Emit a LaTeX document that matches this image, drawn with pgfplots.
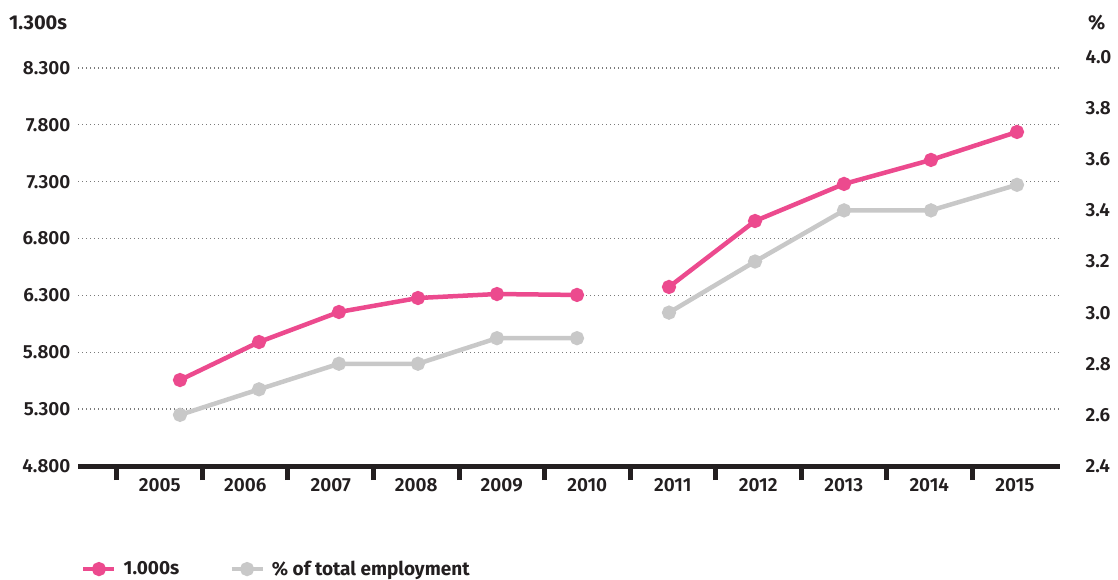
\documentclass[border=0pt]{standalone}
\usepackage{pgfplots}
\pgfplotsset{compat=1.18}
\usepackage{fontspec}
\setmainfont{Fira Sans}[UprightFont={* SemiBold}, BoldFont={* Bold}]
\definecolor{txt}{HTML}{231F20}
\definecolor{pinkline}{HTML}{EC4A8E}
\definecolor{grayline}{HTML}{C8C8C8}
\definecolor{dotgrid}{HTML}{7A7A7A}

\pgfplotsset{
  base/.style={
    at={(78pt,113pt)}, anchor=south west,
    width=982pt, height=409pt, scale only axis,
    xmin=-0.456, xmax=11.029,
    tick label style={font=\fontsize{19}{22}\selectfont, text=txt},
    major tick length=0pt,
    unbounded coords=jump,
  },
  series/.style={line width=4.5pt, mark=*, mark size=4.8pt, mark options={solid}},
}

\begin{document}
\begin{tikzpicture}[x=1pt,y=1pt]
\path[use as bounding box] (0,0) rectangle (1118,579);

% left axis: 1.000s
\begin{axis}[base,
  ymin=4800, ymax=8396,
  axis x line*=bottom, axis y line*=left,
  x axis line style={line width=5pt, color=txt, -},
  y axis line style={draw=none},
  xtick={0.5,1.5,2.5,3.5,4.5,5.5,6.5,7.5,8.5,9.5,10.5},
  xticklabels={2005,2006,2007,2008,2009,2010,2011,2012,2013,2014,2015},
  xticklabel style={yshift=-9pt},
  minor xtick={0,1,2,3,4,5,6,7,8,9,10},
  tick align=outside,
  minor tick length=14pt,
  every minor tick/.append style={line width=5pt, color=txt},
  ytick={4800,5300,5800,6300,6800,7300,7800,8300},
  yticklabels={4.800,5.300,5.800,6.300,6.800,7.300,7.800,8.300},
  yticklabel style={xshift=-4pt},
  ymajorgrids,
  major grid style={dotgrid, line width=1.3pt, dash pattern=on 1.3pt off 2.7pt},
]
\addplot[series, color=pinkline] coordinates {
  (0.737,5556) (1.661,5890) (2.596,6154) (3.520,6277) (4.444,6312) (5.380,6304)
  (5.9,nan)
  (6.456,6374) (7.462,6954) (8.503,7280) (9.520,7491) (10.526,7737)
};
\end{axis}

% right axis: % of total employment
\begin{axis}[base,
  ymin=2.4, ymax=4.0,
  axis x line=none,
  axis y line*=right,
  y axis line style={draw=none},
  ytick={2.4,2.6,2.8,3.0,3.2,3.4,3.6,3.8,4.0},
  yticklabels={2.4,2.6,2.8,3.0,3.2,3.4,3.6,3.8,4.0},
  yticklabel style={anchor=west, xshift=22pt},
  legend style={at={(0.0,-0.252)}, anchor=west, draw=none, fill=none,
    legend columns=2, font=\bfseries\fontsize{19}{22}\selectfont, text=txt,
    nodes={inner sep=0pt},
    /tikz/every even column/.append style={column sep=50pt},
    /tikz/every odd column/.append style={column sep=7pt}},
  legend cell align=left,
  legend image code/.code={\draw[mark repeat=2, mark phase=2, #1] plot coordinates {(0pt,0pt) (15.5pt,0pt) (31pt,0pt)};},
]
\addlegendimage{series, color=pinkline}
\addlegendentry{1.000s}
\addplot[series, color=grayline] coordinates {
  (0.737,2.6) (1.661,2.7) (2.596,2.8) (3.520,2.8) (4.444,2.9) (5.380,2.9)
  (5.9,nan)
  (6.456,3.0) (7.462,3.2) (8.503,3.4) (9.520,3.4) (10.526,3.5)
};
\addlegendentry{\% of total employment}
\end{axis}

\node[anchor=west, inner sep=0pt, font=\bfseries\fontsize{20}{24}\selectfont, text=txt] at (9,556) {1.300s};
\node[anchor=west, inner sep=0pt, font=\bfseries\fontsize{20}{24}\selectfont, text=txt] at (1088,556) {\%};
\end{tikzpicture}
\end{document}
